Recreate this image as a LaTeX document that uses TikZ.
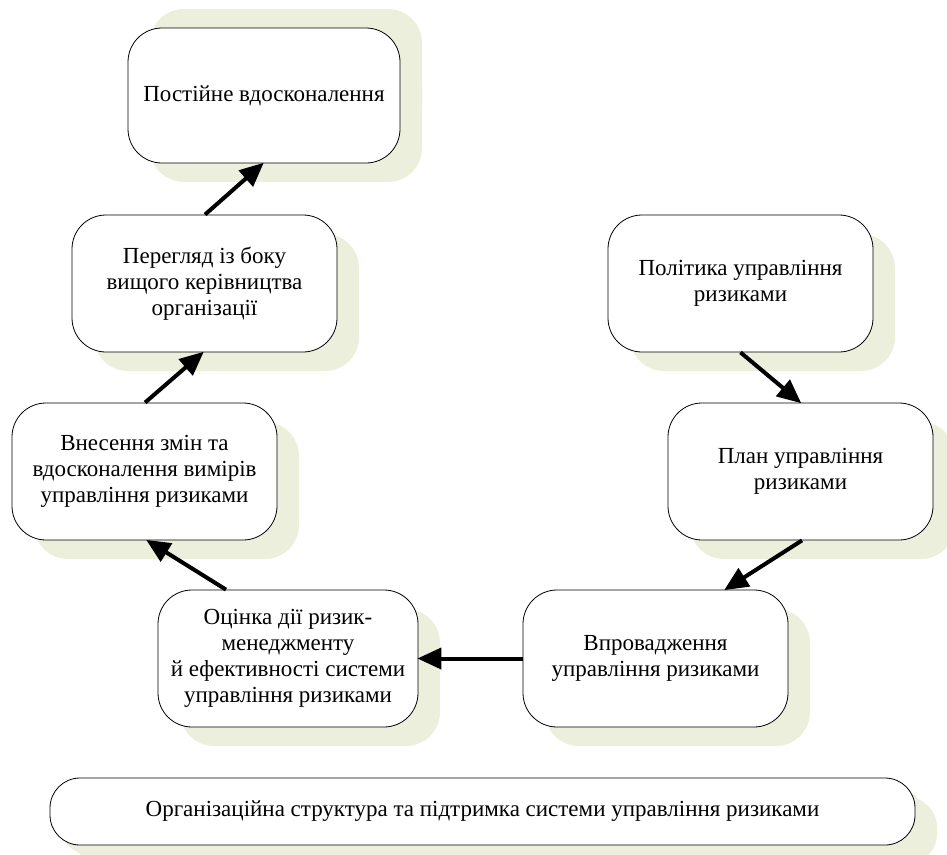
\documentclass[tikz,border=0pt]{standalone}
\usepackage{fontspec}
\setmainfont{Liberation Serif}
\usetikzlibrary{arrows.meta,shadows}
\definecolor{shade}{RGB}{236,239,220}
\tikzset{
  box/.style={draw=black, line width=0.8pt, fill=white, rounded corners=34pt,
    align=center, inner sep=4pt,
    font=\fontsize{23}{26}\selectfont,
    drop shadow={shadow xshift=22pt, shadow yshift=-19pt, fill=shade, opacity=1, draw=none}},
  boxup/.style={box,
    drop shadow={shadow xshift=22pt, shadow yshift=19pt, fill=shade, opacity=1, draw=none}},
  wide/.style={minimum width=265pt, minimum height=137pt},
  flow/.style={draw=black, line width=4pt, -{Triangle[length=24pt,width=21pt]}, shorten >=-1pt},
}
\begin{document}
\begin{tikzpicture}[x=1pt,y=-1pt]
\useasboundingbox (0,0) rectangle (947,854);
% cycle of steps
\node[boxup, minimum width=272pt, minimum height=135pt] (improve) at (264,95.5) {Постійне вдосконалення};
\node[box, wide] (review) at (204.5,283.5) {Перегляд із боку\\вищого керівництва\\організації};
\node[box, wide] (changes) at (144.5,471.5) {Внесення змін та\\вдосконалення вимірів\\управління ризиками};
\node[box, wide, minimum width=260pt] (assess) at (288,658.5) {Оцінка дії ризик-\\менеджменту\\й ефективності системи\\управління ризиками};
\node[box, wide] (implement) at (655.5,658.5) {Впровадження\\управління ризиками};
\node[box, wide] (plan) at (800.5,471.5) {План управління\\ризиками};
\node[box, wide] (policy) at (740.5,283.5) {Політика управління\\ризиками};
% supporting base
\node[box, rounded corners=30pt, minimum width=865pt, minimum height=67pt,
  drop shadow={shadow xshift=10pt, shadow yshift=-10pt, fill=shade, opacity=1, draw=none}]
  (base) at (482.5,811.5) {Організаційна структура та підтримка системи управління ризиками};
% connectors
\draw[flow] ([xshift=0pt]policy.south) -- ([xshift=0pt]plan.north);
\draw[flow] ([xshift=1.5pt]plan.south) -- ([xshift=69.5pt]implement.north);
\draw[flow] (implement.west) -- (assess.east);
\draw[flow] ([xshift=-62pt]assess.north) -- ([xshift=2.5pt]changes.south);
\draw[flow] ([xshift=0.5pt]changes.north) -- ([xshift=-1.5pt]review.south);
\draw[flow] ([xshift=0.5pt]review.north) -- ([xshift=-1pt]improve.south);
\end{tikzpicture}
\end{document}
